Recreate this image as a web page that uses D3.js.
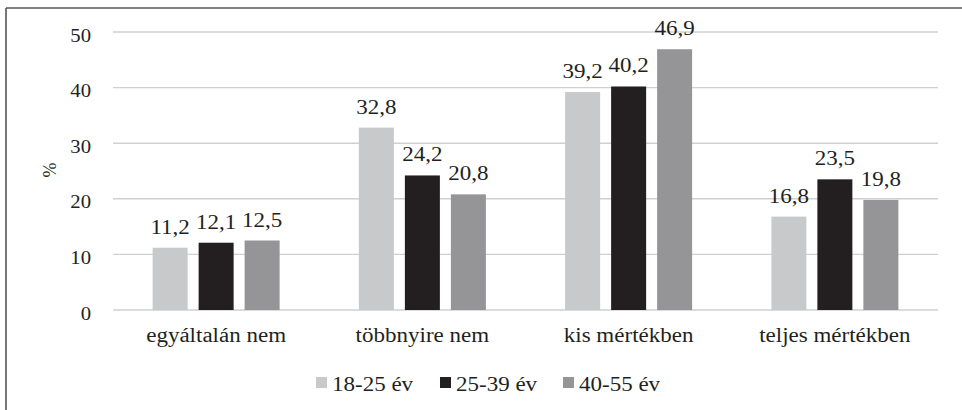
<!DOCTYPE html>
<html>
<head>
<meta charset="utf-8">
<script src="https://cdn.jsdelivr.net/npm/d3@7"></script>
<style>
  html, body { margin: 0; padding: 0; background: #fff; }
  svg { display: block; }
</style>
</head>
<body>
<svg id="chart" width="962" height="410"></svg>
<script>
const categories = ["egyáltalán nem", "többnyire nem", "kis mértékben", "teljes mértékben"];
const seriesNames = ["18-25 év", "25-39 év", "40-55 év"];
const series1825 = [11.2, 32.8, 39.2, 16.8];
const series2539 = [12.1, 24.2, 40.2, 23.5];
const series4055 = [12.5, 20.8, 46.9, 19.8];
const yTicks = [0, 10, 20, 30, 40, 50];
const yLabel = "%";

const colors = ["#c8c9cb", "#231f20", "#959597"];
const seriesValues = [series1825, series2539, series4055];
const SX = 1.15;
const FONT = '"Liberation Serif"';

const svg = d3.select("#chart");
const plotLeft = 113, plotRight = 938, plotTop = 32, plotBottom = 310;

const x = d3.scaleBand().domain(categories).range([plotLeft, plotRight]);
const y = d3.scaleLinear().domain([0, 50]).range([plotBottom, plotTop]);
const barW = 35, step = 46;
const xs = d3.scaleBand().domain(seriesNames).range([0, step * 3]);

function stext(g, x0, y0, str, size, anchor) {
  const t = g.append("text")
    .attr("x", x0).attr("y", y0)
    .attr("text-anchor", anchor || "middle")
    .style("font-family", FONT)
    .style("font-size", size + "px")
    .attr("fill", "#231f20")
    .text(str);
  const w = t.node().getComputedTextLength();
  if (w > 0) t.attr("textLength", w * SX).attr("lengthAdjust", "spacingAndGlyphs");
  return t;
}

// frame
svg.append("line").attr("x1", 6).attr("x2", 962).attr("y1", 8).attr("y2", 8)
  .attr("stroke", "#555").attr("stroke-width", 1.6);
svg.append("line").attr("x1", 6).attr("x2", 6).attr("y1", 8).attr("y2", 410)
  .attr("stroke", "#555").attr("stroke-width", 1.6);

// gridlines
const grid = svg.append("g");
yTicks.forEach(t => {
  grid.append("line").attr("x1", plotLeft).attr("x2", plotRight)
    .attr("y1", y(t)).attr("y2", y(t))
    .attr("stroke", "#d0d0d0").attr("stroke-width", t === 0 ? 1.6 : 1.4);
});

// y tick labels
const yg = svg.append("g");
yTicks.forEach(t => {
  stext(yg, 91, y(t) + 9.5, d3.format("d")(t), 18, "end");
});
svg.append("text")
  .attr("x", 0).attr("y", 0)
  .attr("transform", "translate(56,170) rotate(-90)")
  .attr("text-anchor", "middle")
  .style("font-family", FONT)
  .style("font-size", "18px")
  .attr("fill", "#231f20")
  .text(yLabel);

// bars
const bars = svg.append("g");
const lbls = svg.append("g");
categories.forEach((c, ci) => {
  const cx = x(c) + x.bandwidth() / 2;
  const gx = cx - (step * 3 - (step - barW)) / 2;
  seriesNames.forEach((s, si) => {
    const v = seriesValues[si][ci];
    const bx = gx + xs(s);
    bars.append("rect")
      .attr("x", bx).attr("width", barW)
      .attr("y", y(v)).attr("height", y(0) - y(v))
      .attr("fill", colors[si]);
    stext(lbls, bx + barW / 2, y(v) - 14, String(v).replace(".", ","), 20);
  });
  stext(lbls, cx, 342, c, 20);
});

// legend
const leg = svg.append("g");
const legX = [316, 440, 563];
seriesNames.forEach((s, i) => {
  leg.append("rect").attr("x", legX[i]).attr("y", 377).attr("width", 11).attr("height", 11)
    .attr("fill", colors[i]);
  stext(leg, legX[i] + 16, 391, s, 20, "start");
});
</script>
</body>
</html>
